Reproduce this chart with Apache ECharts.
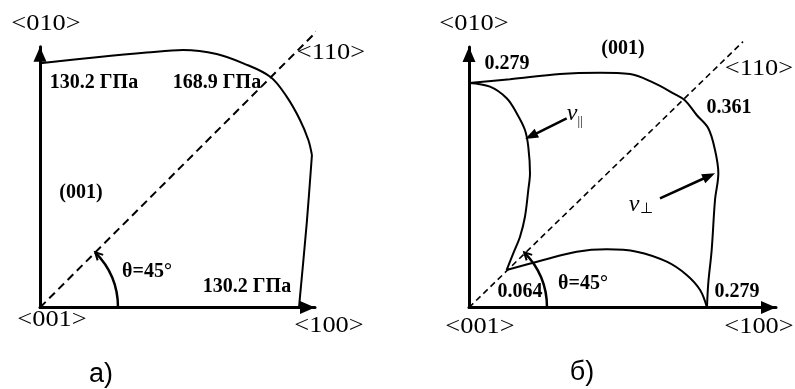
<!DOCTYPE html>
<html>
<head>
<meta charset="utf-8">
<script src="https://cdn.jsdelivr.net/npm/echarts@6.0.0/dist/echarts.min.js"></script>
<style>
  html, body { margin: 0; padding: 0; background: #fff; }
  #chart { width: 795px; height: 389px; }
</style>
</head>
<body>
<div id="chart"></div>
<script>
// ---------- (a) Young's modulus in the (001) plane, GPa ----------
// labelled values: <010>, <110>, <100>
const youngValues = [130.2, 168.9, 130.2];
// curve from <010> round to the kink near <100>, then down to <100>; points [Ex, Ey]
const youngCurveTop = [
  [0, 130.2], [28.5, 133.4], [53.6, 135.9], [72.0, 137.3], [88.8, 135.2],
  [102.2, 130.2], [115.9, 122.9], [124.0, 112.4], [130.7, 100.0],
  [134.9, 89.3], [136.7, 81.3]
];
const youngCurveSide = [[136.7, 81.3], [134.1, 45.1], [130.7, 5.8], [130.2, 0]];
const youngDiagonal = [[0, 0], [140.8, 149.0]];
const youngAxisMax = [138.24, 139.05];

// ---------- (б) Poisson's ratio in the (001) plane ----------
// labelled values: ν at <010>, ν⊥ at <110>, ν∥ at <110>, ν at <100>
const poissonValues = [0.279, 0.361, 0.064, 0.279];
// ν⊥ : outer curve
const nuPerp = [
  [0, 0.279], [0.0481, 0.2836], [0.1067, 0.2902], [0.1536, 0.2918],
  [0.1887, 0.2902], [0.2161, 0.2794], [0.2395, 0.2662], [0.2530, 0.2576],
  [0.2669, 0.2392], [0.2805, 0.2227], [0.2884, 0.1957], [0.2923, 0.1668],
  [0.2884, 0.1336], [0.2845, 0.0715], [0.2805, 0.0301], [0.279, 0]
];
// ν∥ : inner curve, branch from <010> to <110> and branch from <110> to <100>
const nuParUpper = [
  [0, 0.279], [0.0246, 0.2744], [0.0442, 0.2600], [0.0559, 0.2414],
  [0.0656, 0.2206], [0.0695, 0.1998], [0.0715, 0.1668], [0.0695, 0.1460],
  [0.0656, 0.1128], [0.0598, 0.0880], [0.0519, 0.0674], [0.0441, 0.0465]
];
const nuParLower = [
  [0.0441, 0.0465], [0.0871, 0.0590], [0.1263, 0.0693], [0.1614, 0.0723],
  [0.1966, 0.0693], [0.2318, 0.0569], [0.2552, 0.0404], [0.2709, 0.0217],
  [0.279, 0]
];
const poissonDiagonal = [[0, 0], [0.3212, 0.3303]];
const poissonAxisMax = [0.3599, 0.3237];
// pointer arrows [tail, head] for the two curve names
const nuParPointer = [[0.1145, 0.2351], [0.0727, 0.2131]];
const nuPerpPointer = [[0.2239, 0.1357], [0.2815, 0.1634]];

const SERIF = '"Liberation Serif", "Times New Roman", serif';
const SANS = '"Liberation Sans", Arial, sans-serif';

function axis(gridIndex, max) {
  return {
    type: 'value', gridIndex: gridIndex, min: 0, max: max,
    axisLine: {
      show: true, onZero: false,
      symbol: ['none', 'triangle'], symbolSize: [13, 15], symbolOffset: [0, -7.5],
      lineStyle: { color: '#000', width: 3 }
    },
    axisTick: { show: false }, axisLabel: { show: false }, splitLine: { show: false }
  };
}

function curve(data, xi, smooth) {
  return {
    type: 'line', data: data, xAxisIndex: xi, yAxisIndex: xi,
    showSymbol: false, smooth: smooth, clip: false, silent: true,
    lineStyle: { color: '#000', width: 2 }
  };
}

function dashed(data, xi, width, dash) {
  return {
    type: 'line', data: data, xAxisIndex: xi, yAxisIndex: xi,
    showSymbol: false, clip: false, silent: true,
    lineStyle: { color: '#000', width: width, type: dash }
  };
}

const chart = echarts.init(document.getElementById('chart'), null, { renderer: 'canvas' });

const pointers = {
  type: 'line', data: [], xAxisIndex: 1, yAxisIndex: 1, silent: true,
  markLine: {
    silent: true, symbol: ['none', 'triangle'], symbolSize: [10, 13],
    label: { show: false },
    lineStyle: { color: '#000', width: 2.5, type: 'solid' },
    data: [
      [{ coord: nuParPointer[0] }, { coord: nuParPointer[1] }],
      [{ coord: nuPerpPointer[0] }, { coord: nuPerpPointer[1] }]
    ]
  }
};

chart.setOption({
  animation: false,
  backgroundColor: '#fff',
  grid: [
    { left: 40, top: 46.7, width: 275, height: 260.8 },
    { left: 469, top: 47, width: 307, height: 260.5 }
  ],
  xAxis: [axis(0, youngAxisMax[0]), axis(1, poissonAxisMax[0])],
  yAxis: [axis(0, youngAxisMax[1]), axis(1, poissonAxisMax[1])],
  series: [
    dashed(youngDiagonal, 0, 2, [8, 5]),
    curve(youngCurveTop, 0, 0.35),
    curve(youngCurveSide, 0, 0.3),
    dashed(poissonDiagonal, 1, 1.6, [6, 4]),
    curve(nuPerp, 1, 0.35),
    curve(nuParUpper, 1, 0.35),
    curve(nuParLower, 1, 0.35),
    pointers
  ]
});

// ---------- annotations ----------
function txt(x, y, text, size, opts) {
  opts = opts || {};
  return {
    type: 'text', x: x, y: y, scaleX: opts.sx || 1, silent: true, z: 100,
    style: {
      text: text, fill: '#000',
      font: (opts.style || 'normal') + ' ' + (opts.weight || 'normal') + ' ' + size + 'px ' + (opts.family || SERIF),
      align: 'center', verticalAlign: 'middle'
    }
  };
}

function angleMark(gridIndex, radius) {
  const o = chart.convertToPixel({ gridIndex: gridIndex }, [0, 0]);
  const c = Math.SQRT1_2;
  const tip = [o[0] + radius * c, o[1] - radius * c];
  return [
    {
      type: 'arc', silent: true, z: 90,
      shape: { cx: o[0], cy: o[1], r: radius, startAngle: -Math.PI / 4, endAngle: 0, clockwise: true },
      style: { stroke: '#000', lineWidth: 2.5, fill: 'none' }
    },
    {
      type: 'polyline', silent: true, z: 90,
      shape: { points: [[tip[0] + 8, tip[1] + 2.5], tip, [tip[0] + 2.5, tip[1] + 8]] },
      style: { stroke: '#000', lineWidth: 2, fill: 'none' }
    }
  ];
}

const fmtGPa = v => v.toFixed(1) + ' ГПа';
const fmtNu = v => v.toFixed(3);
const AX = { sx: 1.1 };
const B = { weight: 'bold' };

const graphics = []
  .concat(angleMark(0, 78), angleMark(1, 78))
  .concat([
    // (a)
    txt(46, 24, '<010>', 24, AX),
    txt(331, 53, '<110>', 24, AX),
    txt(52, 320, '<001>', 24, AX),
    txt(329, 326, '<100>', 24, AX),
    txt(94, 83, fmtGPa(youngValues[0]), 20, B),
    txt(217, 83, fmtGPa(youngValues[1]), 20, B),
    txt(247, 287, fmtGPa(youngValues[2]), 20, B),
    txt(81, 193, '(001)', 20, B),
    txt(147, 272, 'θ=45°', 20, B),
    txt(101, 375, 'а)', 27, { family: SANS }),
    // (б)
    txt(474, 24, '<010>', 24, AX),
    txt(759, 69, '<110>', 24, AX),
    txt(480, 327, '<001>', 24, AX),
    txt(759, 327, '<100>', 24, AX),
    txt(623, 49, '(001)', 20, B),
    txt(507, 64, fmtNu(poissonValues[0]), 20, B),
    txt(729, 108, fmtNu(poissonValues[1]), 20, B),
    txt(520, 292, fmtNu(poissonValues[2]), 20, B),
    txt(737, 292, fmtNu(poissonValues[3]), 20, B),
    txt(583, 284, 'θ=45°', 20, B),
    txt(572, 114, 'ν', 24, { style: 'italic' }),
    txt(580, 122, '||', 13),
    txt(634, 205, 'ν', 24, { style: 'italic' }),
    txt(646, 209, '⊥', 15),
    txt(582, 373, 'б)', 27, { family: SANS })
  ]);

chart.setOption({ graphic: graphics });
</script>
</body>
</html>
